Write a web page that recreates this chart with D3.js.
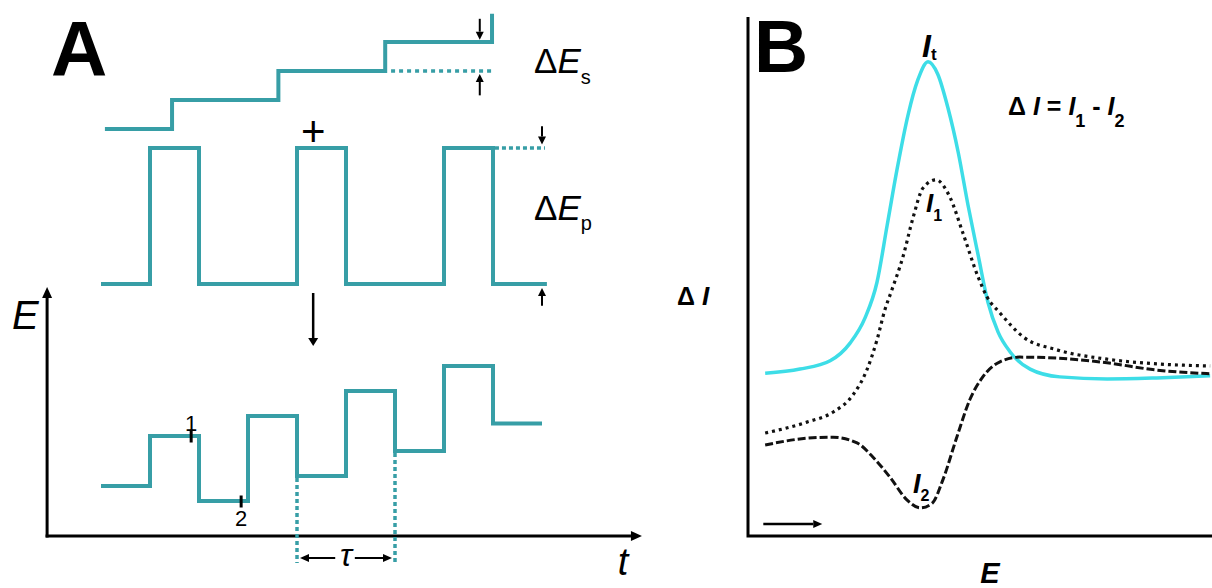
<!DOCTYPE html>
<html>
<head>
<meta charset="utf-8">
<script src="https://cdn.jsdelivr.net/npm/d3@7"></script>
<style>
  body { margin: 0; background: #fff; }
  svg { display: block; }
  text { font-family: "Liberation Sans", Arial, sans-serif; }
</style>
</head>
<body>
<svg id="fig" width="1212" height="588"></svg>
<script>
// ---------- Panel A: differential pulse waveform (time in half-period units) ----------
// staircase ramp
const stairTimes  = [1.08, 2.45, 4.62, 6.8, 8.98];
const stairLevels = [0, 1, 2, 3, 3.97];
// pulse train
const pulseTimes  = [1, 2, 3, 5, 6, 8, 9, 10.1];
const pulseLevels = [0, 1, 0, 1, 0, 1, 0, 0];
// resulting potential programme
const sumTimes  = [1, 2, 3, 4, 5, 6, 7, 8, 9, 10];
const sumLevels = [2.0, 4.0, 1.4, 4.8, 2.4, 5.8, 3.4, 6.8, 4.5, 4.5];
// current sampling points
const sampleTimes  = [2.84, 3.86];
const sampleLabels = ["1", "2"];
// pulse period markers (tau)
const tauTimes = [5, 7];

// ---------- Panel B: current vs potential ----------
const potT = [3.7, 11.2, 17.7, 22.0, 25.2, 27.8, 30.0, 32.1, 34.5, 36.6, 38.8, 40.9, 43.1, 45.3, 47.4, 49.6, 51.7, 53.9, 56.5, 60.8, 67.2, 77.4, 88.1, 99.6];
const curT = [31.3, 32.1, 33.7, 37.1, 41.9, 48.8, 59.8, 70.4, 81.0, 87.7, 91.2, 88.8, 82.3, 73.8, 63.7, 54.0, 45.0, 39.2, 35.4, 32.1, 30.6, 30.2, 30.4, 30.8];

const pot1 = [3.7, 12.7, 18.3, 22.6, 25.6, 27.8, 29.5, 31.0, 33.4, 35.6, 37.7, 40.5, 43.5, 46.3, 49.6, 51.5, 54.3, 59.3, 66.6, 77.4, 88.1, 99.6];
const cur1 = [19.8, 21.9, 23.8, 27.1, 31.9, 37.7, 43.5, 47.3, 53.7, 61.3, 66.9, 68.5, 65.2, 58.3, 49.8, 46.0, 42.9, 38.3, 35.8, 34.0, 33.1, 32.7];

const pot2 = [3.7, 12.7, 18.3, 23.5, 26.9, 30.6, 34.3, 37.1, 39.7, 42.0, 45.0, 47.8, 50.6, 54.3, 58.6, 66.6, 77.4, 88.1, 99.6];
const cur2 = [17.5, 18.8, 19.0, 17.9, 15.2, 11.3, 6.9, 5.4, 6.3, 10.8, 19.0, 26.2, 30.6, 33.5, 34.4, 34.2, 33.3, 31.9, 31.2];

// ---------- drawing ----------
const svg = d3.select("#fig");
const teal = "#379ea6";
const cyan = "#3ddde7";

function arrow(g, x1, y1, x2, y2, o = {}) {
  const w = o.w || 2, len = o.len || 7, hw = o.hw || 4, col = o.color || "#000";
  const a = Math.atan2(y2 - y1, x2 - x1);
  const bx = x2 - len * Math.cos(a), by = y2 - len * Math.sin(a);
  g.append("line").attr("x1", x1).attr("y1", y1).attr("x2", bx).attr("y2", by)
    .attr("stroke", col).attr("stroke-width", w);
  g.append("path")
    .attr("d", `M${x2},${y2}L${bx - hw * Math.sin(a)},${by + hw * Math.cos(a)}L${bx + hw * Math.sin(a)},${by - hw * Math.cos(a)}Z`)
    .attr("fill", col);
}

// ===== Panel A =====
const gA = svg.append("g");
const xA = d3.scaleLinear().domain([0, 12]).range([52, 640]);
const yStair = d3.scaleLinear().domain([0, 3]).range([129, 42]);
const yPulse = d3.scaleLinear().domain([0, 1]).range([284, 148]);
const yE = d3.scaleLinear().domain([0, 10]).range([536, 286]);

const stepLine = (ys) => d3.line().x(d => xA(d[0])).y(d => ys(d[1])).curve(d3.curveStepAfter);

gA.append("path").datum(d3.zip(stairTimes, stairLevels))
  .attr("d", stepLine(yStair)).attr("fill", "none").attr("stroke", teal).attr("stroke-width", 4);
gA.append("path").datum(d3.zip(pulseTimes, pulseLevels))
  .attr("d", stepLine(yPulse)).attr("fill", "none").attr("stroke", teal).attr("stroke-width", 4);
gA.append("path").datum(d3.zip(sumTimes, sumLevels))
  .attr("d", stepLine(yE)).attr("fill", "none").attr("stroke", teal).attr("stroke-width", 4);

// dotted extensions marking step and pulse heights
gA.append("line").attr("x1", xA(6.92)).attr("x2", xA(8.98)).attr("y1", yStair(2)).attr("y2", yStair(2))
  .attr("stroke", teal).attr("stroke-width", 3.5).attr("stroke-dasharray", "4,4");
gA.append("line").attr("x1", xA(9.04)).attr("x2", xA(10.06)).attr("y1", yPulse(1)).attr("y2", yPulse(1))
  .attr("stroke", teal).attr("stroke-width", 3.5).attr("stroke-dasharray", "4,3");

// height arrows
arrow(gA, xA(8.73), yStair(3.8), xA(8.73), yStair(3.08), { w: 2, len: 8, hw: 4 });
arrow(gA, xA(8.73), yStair(1.16), xA(8.73), yStair(1.9), { w: 2, len: 8, hw: 4 });
arrow(gA, xA(10.0), yPulse(1.16), xA(10.0), yPulse(1.025), { w: 2, len: 8, hw: 4 });
arrow(gA, xA(10.0), yPulse(-0.16), xA(10.0), yPulse(-0.03), { w: 2, len: 8, hw: 4 });

// combination arrow
arrow(gA, xA(5.33), yE(9.72), xA(5.33), yE(7.6), { w: 2.5, len: 8, hw: 5 });

// labels
gA.append("text").attr("x", 51).attr("y", 76).attr("font-size", 78).attr("font-weight", "bold").text("A");
const tS = gA.append("text").attr("x", 534).attr("y", 73).attr("font-size", 35);
tS.append("tspan").text("Δ");
tS.append("tspan").attr("font-style", "italic").text("E");
tS.append("tspan").attr("font-size", 20).attr("dy", 11).text("s");
const tP = gA.append("text").attr("x", 534).attr("y", 220).attr("font-size", 35);
tP.append("tspan").text("Δ");
tP.append("tspan").attr("font-style", "italic").text("E");
tP.append("tspan").attr("font-size", 20).attr("dy", 10).text("p");
gA.append("text").attr("x", xA(5.33)).attr("y", 146).attr("font-size", 42).attr("text-anchor", "middle").text("+");

// axes
const axT = [-0.1, 12.04], axE = [0, 9.96];
arrow(gA, xA(axT[0]), yE(axE[0]) + 1.5, xA(axT[0]), yE(axE[1]), { w: 3, len: 11, hw: 5 });
arrow(gA, xA(axT[0]) - 1.5, yE(0), xA(axT[1]), yE(0), { w: 3, len: 11, hw: 5 });
gA.append("text").attr("x", 12).attr("y", 329).attr("font-size", 40).attr("font-style", "italic").text("E");
gA.append("text").attr("x", 623).attr("y", 575).attr("font-size", 38).attr("font-style", "italic")
  .attr("text-anchor", "middle").text("t");

// sampling markers
sampleTimes.forEach((t, i) => {
  const lvl = sumLevels[sumTimes.filter(s => s <= t).length - 1];
  const y = yE(lvl);
  gA.append("line").attr("x1", xA(t)).attr("x2", xA(t)).attr("y1", y - 5.5).attr("y2", y + 6.5)
    .attr("stroke", "#000").attr("stroke-width", 3);
  gA.append("text").attr("x", xA(t)).attr("y", i === 0 ? y - 5 : y + 25)
    .attr("font-size", 22).attr("text-anchor", "middle").text(sampleLabels[i]);
});

// tau markers
tauTimes.forEach(t => {
  const lvl = sumLevels[sumTimes.indexOf(t)];
  gA.append("line").attr("x1", xA(t)).attr("x2", xA(t)).attr("y1", yE(lvl) + 2).attr("y2", yE(-1.08))
    .attr("stroke", teal).attr("stroke-width", 3.5).attr("stroke-dasharray", "4,3");
});
arrow(gA, xA(5.78), yE(-0.88), xA(tauTimes[0]) + 3, yE(-0.88), { w: 2, len: 9, hw: 4 });
arrow(gA, xA(6.18), yE(-0.88), xA(tauTimes[1]) - 3, yE(-0.88), { w: 2, len: 9, hw: 4 });
gA.append("text").attr("x", xA(6.0)).attr("y", 566).attr("font-size", 32).attr("font-style", "italic")
  .attr("font-family", "Liberation Serif, serif").attr("text-anchor", "middle").text("τ");

// ===== Panel B =====
const gB = svg.append("g");
const xB = d3.scaleLinear().domain([0, 100]).range([748, 1212]);
const yB = d3.scaleLinear().domain([0, 100]).range([536, 16]);
const curve = d3.line().x(d => xB(d[0])).y(d => yB(d[1])).curve(d3.curveMonotoneX);

gB.append("path").datum(d3.zip(potT, curT)).attr("d", curve)
  .attr("fill", "none").attr("stroke", cyan).attr("stroke-width", 3.5);
gB.append("path").datum(d3.zip(pot1, cur1)).attr("d", curve)
  .attr("fill", "none").attr("stroke", "#111").attr("stroke-width", 3.2).attr("stroke-dasharray", "3,4");
gB.append("path").datum(d3.zip(pot2, cur2)).attr("d", curve)
  .attr("fill", "none").attr("stroke", "#111").attr("stroke-width", 3).attr("stroke-dasharray", "8,3");

// frame
gB.append("path").attr("d", `M${xB(0)},${yB(100) + 1}V${yB(0)}H${xB(100)}`)
  .attr("fill", "none").attr("stroke", "#000").attr("stroke-width", 3);

// scan direction
arrow(gB, xB(3.3), yB(2.3), xB(16.0), yB(2.3), { w: 2.5, len: 9, hw: 4 });

gB.append("text").attr("x", 754).attr("y", 72).attr("font-size", 75).attr("font-weight", "bold").text("B");

function subLabel(x, y, main, sub, size, subSize, dy) {
  const t = gB.append("text").attr("x", x).attr("y", y).attr("font-size", size)
    .attr("font-weight", "bold").attr("font-style", "italic");
  t.append("tspan").text(main);
  t.append("tspan").attr("font-size", subSize).attr("font-style", "normal").attr("dy", dy).text(sub);
}
subLabel(922, 57, "I", "t", 32, 17, 3);
subLabel(926, 212, "I", "1", 26, 16, 9);
subLabel(913, 493, "I", "2", 27, 16, 8);

// difference formula
const f = gB.append("text").attr("x", 1008).attr("y", 115).attr("font-size", 25).attr("font-weight", "bold");
f.append("tspan").text("Δ ");
f.append("tspan").attr("font-style", "italic").text("I");
f.append("tspan").text(" = ");
f.append("tspan").attr("font-style", "italic").text("I");
f.append("tspan").attr("font-size", 18).attr("dy", 12).text("1");
f.append("tspan").attr("dy", -12).text(" - ");
f.append("tspan").attr("font-style", "italic").text("I");
f.append("tspan").attr("font-size", 18).attr("dy", 12).text("2");

// axis labels
const yl = gB.append("text").attr("x", 677).attr("y", 305).attr("font-size", 25).attr("font-weight", "bold");
yl.append("tspan").text("Δ ");
yl.append("tspan").attr("font-style", "italic").attr("font-size", 26).text("I");
gB.append("text").attr("x", 990).attr("y", 583).attr("font-size", 29).attr("font-weight", "bold")
  .attr("font-style", "italic").attr("text-anchor", "middle").text("E");
</script>
</body>
</html>
